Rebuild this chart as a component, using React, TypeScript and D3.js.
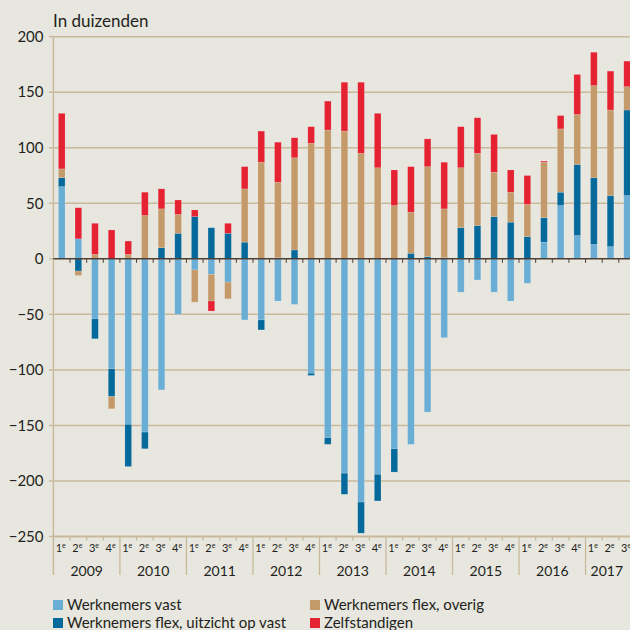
import React from 'react';
import * as d3 from 'd3';

// quarters 2009 Q1 .. 2017 Q3, in thousands
const years = ['2009', '2010', '2011', '2012', '2013', '2014', '2015', '2016', '2017'];
const quarterLabels = ['1', '2', '3', '4'];

const vast = [65, 18, -54, -99, -149, -156, -118, -50, -10, -14, -21, -55, -55, -38, -41, -103, -161, -193, -219, -194, -171, -167, -138, -71, -30, -19, -30, -38, -22, 15, 48, 21, 13, 11, 57];
const uitzicht = [8, -11, -18, -25, -38, -15, 10, 23, 38, 28, 23, 15, -9, 1, 8, -2, -6, -19, -28, -24, -21, 5, 2, 1, 28, 30, 38, 33, 20, 22, 12, 64, 60, 46, 77];
const overig = [8, -4, 4, -11, 4, 39, 35, 17, -29, -24, -15, 48, 87, 68, 83, 104, 116, 115, 95, 82, 48, 37, 81, 44, 54, 65, 40, 27, 29, 50, 57, 45, 83, 77, 21];
const zelf = [50, 28, 28, 26, 12, 21, 18, 13, 6, -9, 9, 20, 28, 36, 18, 15, 26, 44, 64, 49, 32, 41, 25, 42, 37, 32, 34, 20, 26, 1, 12, 36, 30, 35, 23];

const yTicks = [200, 150, 100, 50, 0, -50, -100, -150, -200, -250];

const seriesKeys = ['vast', 'uitzicht', 'overig', 'zelf'];
const seriesNames = ['Werknemers vast', 'Werknemers flex, uitzicht op vast', 'Werknemers flex, overig', 'Zelfstandigen'];
const colors = ['#6aadd5', '#05699b', '#c49a6a', '#e52232'];

const W = 630;
const H = 630;
const FONT = 'Lato, "Open Sans", sans-serif';

export default function App() {
  const n = vast.length;
  const rows = d3.range(n).map((i) => ({
    idx: String(i),
    vast: vast[i],
    uitzicht: uitzicht[i],
    overig: overig[i],
    zelf: zelf[i]
  }));

  const left = 53.4;
  const step = 16.63;
  const x = d3
    .scaleBand<string>()
    .domain(rows.map((d) => d.idx))
    .range([left, left + n * step])
    .paddingInner(0.6)
    .paddingOuter(0.3);

  const y = d3.scaleLinear().domain([-250, 200]).range([536.5, 36.7]);

  const stacked = d3
    .stack<any>()
    .keys(seriesKeys)
    .offset(d3.stackOffsetDiverging)(rows);

  const axisY = y(-250);
  const zeroY = y(0);
  const tan = '#c8b99b';
  const boundaries = d3.range(1, n + 1).map((i) => left + i * x.step());

  return (
    <div style={{ position: 'absolute', left: 0, top: 0, width: W, height: H }}>
      <svg width={W} height={H} style={{ display: 'block', background: '#e8e7df' }}>
        <rect x={0} y={0} width={W} height={H} fill="#e8e7df" />

        {/* title */}
        <text x={53} y={27} fontFamily={FONT} fontSize={17} fill="#231f20">
          In duizenden
        </text>

        {/* gridlines */}
        {yTicks.filter((t) => t !== 0).map((t) => (
          <line key={t} x1={left} x2={W} y1={y(t)} y2={y(t)} stroke={tan} strokeWidth={t === -250 ? 2 : 1.5} />
        ))}

        {/* y axis */}
        <line x1={left} x2={left} y1={y(200) - 1} y2={575} stroke={tan} strokeWidth={1.5} />
        {yTicks.map((t) => (
          <g key={t}>
            <line x1={49} x2={left} y1={y(t)} y2={y(t)} stroke={tan} strokeWidth={1.5} />
            <text
              x={43.5}
              y={y(t)}
              dy="0.35em"
              textAnchor="end"
              fontFamily={FONT}
              fontSize={15}
              fill="#231f20"
            >
              {t < 0 ? '\u2212' + Math.abs(t) : t}
            </text>
          </g>
        ))}

        {/* bars */}
        {stacked.map((layer, li) => (
          <g key={seriesKeys[li]} fill={colors[li]}>
            {layer.map((seg, i) => {
              const y0 = y(Math.max(seg[0], seg[1]));
              const y1 = y(Math.min(seg[0], seg[1]));
              if (y1 - y0 < 0.2) return null;
              return (
                <rect
                  key={i}
                  x={x(String(i))}
                  y={y0}
                  width={x.bandwidth()}
                  height={y1 - y0}
                  stroke="rgba(255,255,255,0.25)"
                  strokeWidth={0.6}
                />
              );
            })}
          </g>
        ))}

        {/* zero line with ticks */}
        <line x1={left} x2={W} y1={zeroY} y2={zeroY} stroke="#4d3f33" strokeWidth={1.5} />
        {boundaries.map((bx, i) => (
          <line key={i} x1={bx} x2={bx} y1={zeroY} y2={zeroY + 4} stroke="#4d3f33" strokeWidth={1} />
        ))}

        {/* bottom quarter ticks and year separators */}
        {boundaries.map((bx, i) => (
          <line
            key={i}
            x1={bx}
            x2={bx}
            y1={axisY}
            y2={(i + 1) % 4 === 0 ? 575 : axisY + 4}
            stroke={tan}
            strokeWidth={1.3}
          />
        ))}

        {/* quarter labels */}
        {rows.map((d, i) => (
          <text
            key={i}
            x={(x(d.idx) as number) + x.bandwidth() / 2 - 1}
            y={552}
            textAnchor="middle"
            fontFamily={FONT}
            fontSize={11}
            fill="#231f20"
          >
            {quarterLabels[i % 4]}
            <tspan fontSize={7} dy={-4}>e</tspan>
          </text>
        ))}

        {/* year labels */}
        {years.map((yr, k) => {
          const start = left + k * 4 * x.step();
          const end = Math.min(left + (k + 1) * 4 * x.step(), W - 2);
          return (
            <text
              key={yr}
              x={(start + end) / 2}
              y={576}
              textAnchor="middle"
              fontFamily={FONT}
              fontSize={14}
              fill="#231f20"
            >
              {yr}
            </text>
          );
        })}

        {/* legend */}
        {seriesNames.map((name, i) => {
          const col = i < 2 ? 0 : 1;
          const row = i % 2;
          const lx = col === 0 ? 53 : 310;
          const ly = 600 + row * 18;
          return (
            <g key={name}>
              <rect x={lx} y={ly} width={10} height={10} fill={colors[i]} />
              <text x={lx + 14} y={ly + 9.5} fontFamily={FONT} fontSize={15} fill="#231f20">
                {name}
              </text>
            </g>
          );
        })}
      </svg>
    </div>
  );
}
